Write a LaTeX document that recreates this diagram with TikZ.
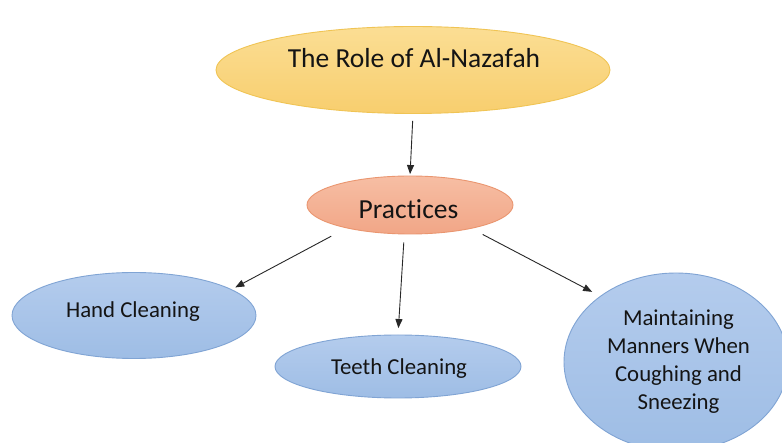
\documentclass[tikz,border=0pt]{standalone}
\usepackage{fontspec}
\setmainfont{Carlito}[Ligatures=NoCommon]
\usetikzlibrary{shapes.geometric,arrows.meta}
\definecolor{goldTop}{RGB}{251,222,148}
\definecolor{goldBot}{RGB}{248,206,110}
\definecolor{goldLine}{RGB}{240,196,84}
\definecolor{salTop}{RGB}{247,190,164}
\definecolor{salBot}{RGB}{241,166,135}
\definecolor{salLine}{RGB}{234,150,112}
\definecolor{bluTop}{RGB}{180,204,237}
\definecolor{bluBot}{RGB}{158,189,229}
\definecolor{bluLine}{RGB}{128,164,212}
\definecolor{txt}{RGB}{20,20,20}
\definecolor{conn}{RGB}{40,40,40}
\begin{document}
\begin{tikzpicture}[x=1pt,y=-1pt,
  bubble/.style={ellipse, inner sep=0pt, line width=0.9pt},
  goldbubble/.style={bubble, draw=goldLine, top color=goldTop, bottom color=goldBot},
  salbubble/.style={bubble, draw=salLine, top color=salTop, bottom color=salBot},
  blububble/.style={bubble, draw=bluLine, top color=bluTop, bottom color=bluBot},
  bigtext/.style={inner sep=0pt, text=txt, font=\fontsize{27.5}{33}\selectfont, anchor=base},
  smalltext/.style={inner sep=0pt, text=txt, font=\fontsize{22.8}{28}\selectfont, align=center},
  arrow/.style={draw=conn, line width=0.9pt, -{Triangle[length=9pt,width=7pt]}}
]
\useasboundingbox (0,0) rectangle (782,443);
\fill[white] (0,0) rectangle (782,443);

% shapes
\node[goldbubble, minimum width=394pt, minimum height=87pt] (role) at (413,70) {};
\node[salbubble, minimum width=206pt, minimum height=58pt] (pr) at (410,205) {};
\node[blububble, minimum width=244pt, minimum height=86pt] (hc) at (134,315.5) {};
\node[blububble, minimum width=246pt, minimum height=63pt] (tc) at (398,366.5) {};
\node[blububble, minimum width=224pt, minimum height=178pt] (mm) at (676,362) {};

% texts
\node[bigtext] (roleT) at (414,67.3) {The Role of Al-Nazafah};
\node[bigtext] (prT) at (408.5,218.3) {Practices};
\node[smalltext, anchor=base] (hcT) at (133,317.3) {Hand Cleaning};
\node[smalltext, anchor=base] (tcT) at (399,375) {Teeth Cleaning};
\node[smalltext] (mmT) at (678.5,362) {Maintaining\\Manners When\\Coughing and\\Sneezing};

% connectors
\draw[arrow, shorten <=7pt, shorten >=1.5pt] (role.south) -- (pr.north);
\draw[arrow, shorten <=17pt, shorten >=4pt] (pr.200.4) -- (hc.15);
\draw[arrow, shorten <=8pt, shorten >=6.5pt] (pr.259) -- (tc.north);
\draw[arrow, shorten <=12.5pt, shorten >=9pt] (pr.339.9) -- (mm.139.7);
\end{tikzpicture}
\end{document}
